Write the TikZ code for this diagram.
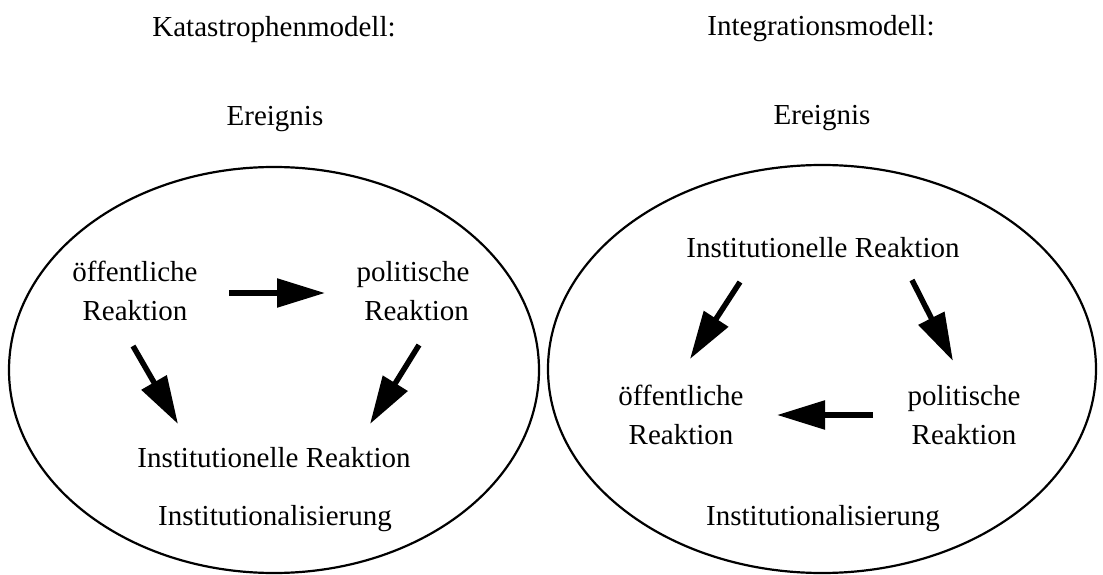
\documentclass[tikz,border=0pt]{standalone}
\usepackage{fontspec}
\setmainfont{Liberation Serif}
\usetikzlibrary{arrows.meta}
\tikzset{
  lbl/.style={font=\fontsize{29}{38.5}\selectfont, align=center, inner sep=0pt, anchor=base},
  oval/.style={draw, line width=2.2pt},
  bigarrow/.style={line width=5.5pt, -{Triangle[length=48pt,width=28pt]}}
}
\begin{document}
\begin{tikzpicture}[x=1pt,y=-1pt]
\useasboundingbox (0,0) rectangle (1103,575);
% titles
\node[lbl] (t1) at (274,37) {Katastrophenmodell:};
\node[lbl] (t2) at (821,36) {Integrationsmodell:};
\node[lbl] (e1) at (275,126) {Ereignis};
\node[lbl] (e2) at (822,125) {Ereignis};
% ellipses
\draw[oval] (274,370) ellipse [x radius=265, y radius=203];
\draw[oval] (822,369) ellipse [x radius=274, y radius=204];
% left model
\node[lbl] (oeL) at (135,320) {öffentliche\\Reaktion};
\node[lbl] (poL) at (413,320) {politische\\\ Reaktion};
\node[lbl] (irL) at (274,467) {Institutionelle Reaktion};
\node[lbl] (inL) at (275,525) {Institutionalisierung};
\coordinate (a1s) at (229,293); \coordinate (a1e) at (325,293);
\coordinate (a2s) at (133,346); \coordinate (a2e) at (178,424);
\coordinate (a3s) at (419,345); \coordinate (a3e) at (370,424);
\draw[bigarrow] (a1s) -- (a1e);
\draw[bigarrow] (a2s) -- (a2e);
\draw[bigarrow] (a3s) -- (a3e);
% right model
\node[lbl] (irR) at (823,257) {Institutionelle Reaktion};
\node[lbl] (oeR) at (681,444) {öffentliche\\Reaktion};
\node[lbl] (poR) at (964,444) {politische\\Reaktion};
\node[lbl] (inR) at (823,525) {Institutionalisierung};
\coordinate (b1s) at (740,282); \coordinate (b1e) at (690,359);
\coordinate (b2s) at (912,280); \coordinate (b2e) at (953,361);
\coordinate (b3s) at (873,415); \coordinate (b3e) at (777,415);
\draw[bigarrow] (b1s) -- (b1e);
\draw[bigarrow] (b2s) -- (b2e);
\draw[bigarrow] (b3s) -- (b3e);
\end{tikzpicture}
\end{document}
